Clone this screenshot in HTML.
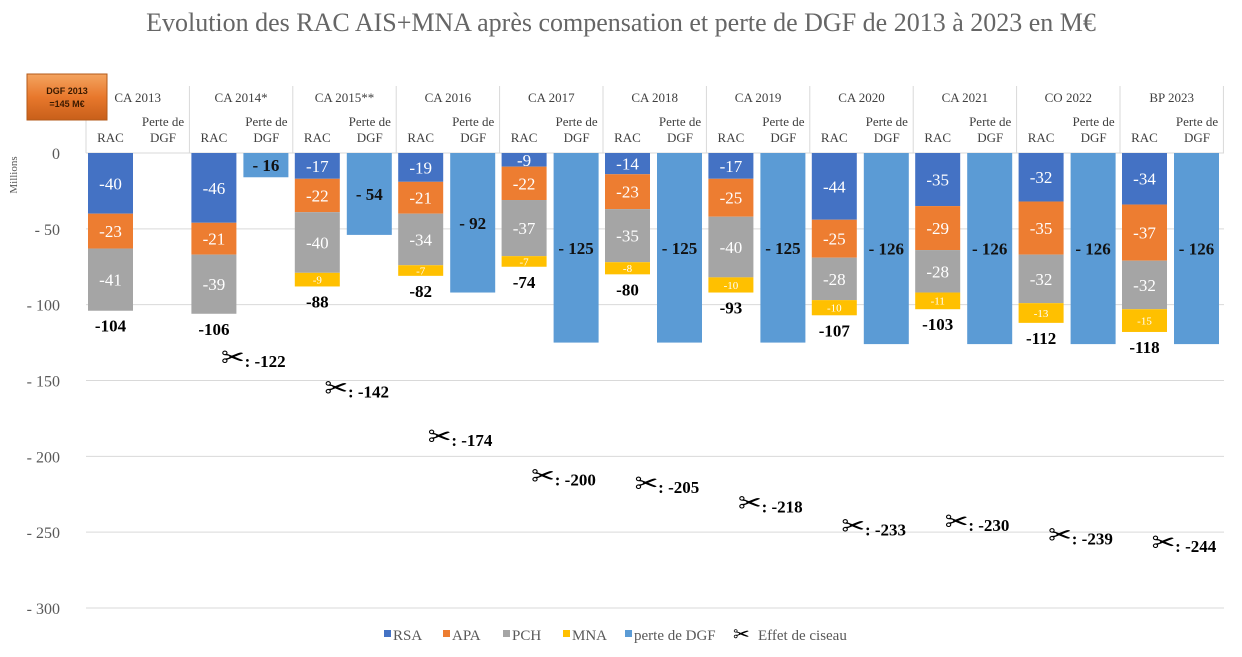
<!DOCTYPE html>
<html><head><meta charset="utf-8"><style>
body{margin:0;background:#fff;}
svg text{font-family:"Liberation Serif",serif;}
</style></head><body>
<svg id="c" width="1242" height="652" xmlns="http://www.w3.org/2000/svg">
<defs><linearGradient id="og" x1="0" y1="0" x2="0" y2="1"><stop offset="0" stop-color="#f4a460"/><stop offset="0.5" stop-color="#e8782c"/><stop offset="1" stop-color="#c85f1a"/></linearGradient></defs>
<text x="621" y="31" text-anchor="middle" font-size="26" fill="#666666">Evolution des RAC AIS+MNA après compensation et perte de DGF de 2013 à 2023 en M€</text>
<g id="grid"></g><g id="hdr"></g><g id="bars"></g><g id="lbl"></g>
<text transform="translate(17,175) rotate(-90)" text-anchor="middle" font-size="11" fill="#595959">Millions</text>
<g>
<rect x="27" y="74" width="80" height="46" fill="url(#og)" stroke="#b35a1a" stroke-width="1"/>
<text x="67" y="94" text-anchor="middle" font-size="9" font-weight="bold" fill="#3a1a00" style="font-family:'Liberation Sans',sans-serif">DGF 2013</text>
<text x="67" y="107" text-anchor="middle" font-size="9" font-weight="bold" fill="#3a1a00" style="font-family:'Liberation Sans',sans-serif">=145 M€</text>
</g>
<g id="legend"></g>
</svg>
<script>
const categories=["CA 2013","CA 2014*","CA 2015**","CA 2016","CA 2017","CA 2018","CA 2019","CA 2020","CA 2021","CO 2022","BP 2023"];
const rsa=[-40,-46,-17,-19,-9,-14,-17,-44,-35,-32,-34];
const apa=[-23,-21,-22,-21,-22,-23,-25,-25,-29,-35,-37];
const pch=[-41,-39,-40,-34,-37,-35,-40,-28,-28,-32,-32];
const mna=[0,0,-9,-7,-7,-8,-10,-10,-11,-13,-15];
const totals=[-104,-106,-88,-82,-74,-80,-93,-107,-103,-112,-118];
const dgf=[null,-16,-54,-92,-125,-125,-125,-126,-126,-126,-126];
const ciseau=[null,-122,-142,-174,-200,-205,-218,-233,-230,-239,-244];
const yTicks=[0,-50,-100,-150,-200,-250,-300];
const yTickLabels=["0","- 50","- 100","- 150","- 200","- 250","- 300"];

const NS="http://www.w3.org/2000/svg";
const y=v=>153+(-v)*455/300;
const gx=i=>86+103.4*i;
function el(p,t,a,txt){const e=document.createElementNS(NS,t);for(const k in a)e.setAttribute(k,a[k]);if(txt!==undefined)e.textContent=txt;p.appendChild(e);return e;}
const G=id=>document.getElementById(id);
yTicks.forEach((v,i)=>{
  const l=el(G('grid'),'line',{x1:86,x2:1224,y1:y(v),y2:y(v),stroke:'#d9d9d9','stroke-width':1});
  
  
  const t=el(G('grid'),'text',{x:60,y:y(v)+6,'text-anchor':'end','font-size':16,fill:'#595959'},yTickLabels[i]);
  
  
});
categories.forEach((c,i)=>{
  const x0=gx(i);
  const s=el(G('hdr'),'line',{x1:x0,x2:x0,y1:86,y2:153,stroke:'#d9d9d9'});
  
  
  const t=el(G('hdr'),'text',{x:x0+51.7,y:102,'text-anchor':'middle','font-size':13,fill:'#404040'},c);
  
  
  const r=el(G('hdr'),'text',{x:x0+24.5,y:142,'text-anchor':'middle','font-size':13,fill:'#404040'},'RAC');
  
  
  const p1=el(G('hdr'),'text',{x:x0+77,y:126,'text-anchor':'middle','font-size':13,fill:'#404040'},'Perte de');
  
  
  const p2=el(G('hdr'),'text',{x:x0+77,y:142,'text-anchor':'middle','font-size':13,fill:'#404040'},'DGF');
  
  
});
const se=el(G('hdr'),'line',{x1:gx(11),x2:gx(11),y1:86,y2:153,stroke:'#d9d9d9'});



const series=[{d:rsa,c:'#4472c4',n:'rsa',fs:17},{d:apa,c:'#ed7d31',n:'apa',fs:17},{d:pch,c:'#a5a5a5',n:'pch',fs:17},{d:mna,c:'#ffc000',n:'mna',fs:11}];
categories.forEach((c,i)=>{
  const x0=gx(i)+2;let cum=0;
  series.forEach(s=>{
    const v=s.d[i];if(!v)return;
    const y1=y(cum),y2=y(cum+v);cum+=v;
    const r=el(G('bars'),'rect',{x:x0,y:y1,width:45,height:y2-y1,fill:s.c});
    
    
    const t=el(G('lbl'),'text',{x:x0+22.5,y:(y1+y2)/2+s.fs*0.35,'text-anchor':'middle','font-size':s.fs,fill:'#fff'},String(v));
    
    
  });
  const tt=el(G('lbl'),'text',{x:x0+22.5,y:y(cum)+21,'text-anchor':'middle','font-size':17,'font-weight':'bold',fill:'#000'},String(totals[i]));
  
  
  if(dgf[i]!==null){
    const dx=gx(i)+54;
    const r=el(G('bars'),'rect',{x:dx,y:y(0),width:45,height:y(dgf[i])-y(0),fill:'#5b9bd5'});
    
    
    const t=el(G('lbl'),'text',{x:dx+22.5,y:(y(0)+y(dgf[i]))/2+6,'text-anchor':'middle','font-size':17,'font-weight':'bold',fill:'#111'},'- '+(-dgf[i]));
    
    
  }
  if(ciseau[i]!==null){
    const cx=gx(i)+51.7, cy=y(ciseau[i])+22;
    const t=el(G('lbl'),'text',{x:cx-20,y:cy+7,'font-size':17,'font-weight':'bold',fill:'#000'});
    el(t,'tspan',{'font-size':28,'font-weight':'normal',style:"font-family:'DejaVu Sans',sans-serif"},'✂');
    el(t,'tspan',{},': '+ciseau[i]);
    
    
  }
});
const leg=[['RSA','#4472c4',393],['APA','#ed7d31',452],['PCH','#a5a5a5',512],['MNA','#ffc000',572],['perte de DGF','#5b9bd5',634]];
leg.forEach(l=>{
  const g=el(G('legend'),'g',{});
  
  
  el(g,'rect',{x:l[2]-9,y:630,width:7,height:7,fill:l[1]});
  el(g,'text',{x:l[2],y:640,'font-size':15,fill:'#595959'},l[0]);
});
const lg=el(G('legend'),'g',{});


el(lg,'text',{x:733,y:641,'font-size':20,fill:'#000',style:"font-family:'DejaVu Sans',sans-serif"},'✂');
el(lg,'text',{x:758,y:640,'font-size':15,fill:'#595959'},'Effet de ciseau');
</script>
</body></html>
